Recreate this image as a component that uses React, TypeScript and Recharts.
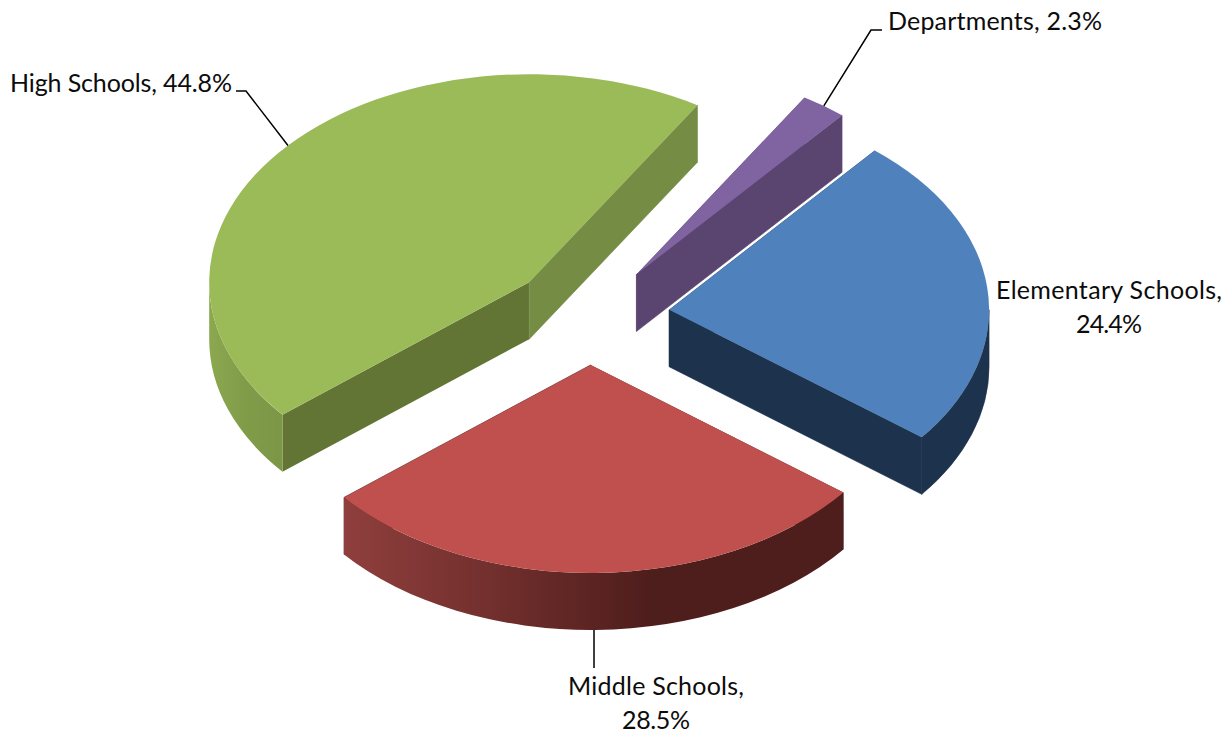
import { Pie, PieChart } from "recharts";

const sliceNames = ["Elementary Schools", "Middle Schools", "High Schools", "Departments"];
const sliceShares = [24.4, 28.5, 44.8, 2.3];

const chartData = sliceNames.map((name, i) => ({ name, share: sliceShares[i] }));

// Tilted-disc projection shared by the slices and their labels
const SQUASH = 0.65;
const DEPTH = 57;
const EXPLODE_X = 0.25;
const EXPLODE_Y = 0.24;
const RAD = Math.PI / 180;

interface SliceStyle {
  top: string;
  startFace: string;
  endFace: string;
  wall: string;
  wallEdge: string;
}

const sliceStyles: SliceStyle[] = [
  { top: "#4f81bd", startFace: "#1d324d", endFace: "#1d324d", wall: "#1d324d", wallEdge: "#1d324d" },
  { top: "#c0504d", startFace: "#4e1e1c", endFace: "#4e1e1c", wall: "url(#middleWall)", wallEdge: "none" },
  { top: "#9bbb59", startFace: "#637535", endFace: "#748c44", wall: "url(#highWall)", wallEdge: "none" },
  { top: "#8064a2", startFace: "#5a4570", endFace: "#5a4570", wall: "#5a4570", wallEdge: "none" }
];

// Text placement for each slice's label, plus the elbow of its leader line
const labelLayouts = [
  {
    lines: [
      { text: "Elementary Schools,", width: 226 },
      { text: "24.4%", width: 66 }
    ],
    x: 1109,
    y: 299,
    anchor: "middle",
    leader: null
  },
  {
    lines: [
      { text: "Middle Schools,", width: 176 },
      { text: "28.5%", width: 68 }
    ],
    x: 656,
    y: 695,
    anchor: "middle",
    leader: [[594, 668]]
  },
  {
    lines: [{ text: "High Schools, 44.8%", width: 222 }],
    x: 10,
    y: 92,
    anchor: "start",
    leader: [[246, 91], [236, 91]]
  },
  {
    lines: [{ text: "Departments, 2.3%", width: 214 }],
    x: 888,
    y: 30,
    anchor: "start",
    leader: [[871, 30], [882, 30]]
  }
];

const LINE_HEIGHT = 34;

function sliceGeometry(cx: number, cy: number, r: number, startAngle: number, endAngle: number) {
  const mid = ((startAngle + endAngle) / 2) * RAD;
  const apexX = cx + EXPLODE_X * r * Math.cos(mid);
  const apexY = cy - EXPLODE_Y * r * SQUASH * Math.sin(mid);
  const rim = (angle: number) => ({
    x: apexX + r * Math.cos(angle * RAD),
    y: apexY - r * SQUASH * Math.sin(angle * RAD)
  });
  return { mid, apexX, apexY, rim };
}

function cutFace(apexX: number, apexY: number, p: { x: number; y: number }) {
  return `M${apexX},${apexY} L${p.x},${p.y} L${p.x},${p.y + DEPTH} L${apexX},${apexY + DEPTH} Z`;
}

function SliceShape(props: any) {
  const { cx, cy, outerRadius: r, startAngle, endAngle, index } = props;
  const style = sliceStyles[index];
  const { apexX, apexY, rim } = sliceGeometry(cx, cy, r, startAngle, endAngle);
  const ry = r * SQUASH;
  const from = rim(startAngle);
  const to = rim(endAngle);
  const large = startAngle - endAngle > 180 ? 1 : 0;

  // Only the near half of the rim shows a wall
  const wallFrom = Math.min(startAngle, 0);
  const wallTo = Math.max(endAngle, -180);
  let wall = null;
  if (wallFrom > wallTo) {
    const a = rim(wallFrom);
    const b = rim(wallTo);
    const d =
      `M${a.x},${a.y} A${r},${ry} 0 0 1 ${b.x},${b.y} L${b.x},${b.y + DEPTH} ` +
      `A${r},${ry} 0 0 0 ${a.x},${a.y + DEPTH} Z`;
    wall = <path d={d} fill={style.wall} stroke={style.wallEdge} strokeWidth={0.6} />;
  }

  return (
    <g>
      <path d={cutFace(apexX, apexY, from)} fill={style.startFace} />
      {/* hairline stroke hides the seam where a face meets a same-coloured wall */}
      <path d={cutFace(apexX, apexY, to)} fill={style.endFace} stroke={style.endFace} strokeWidth={0.6} />
      {wall}
      <path
        d={`M${apexX},${apexY} L${from.x},${from.y} A${r},${ry} 0 ${large} 1 ${to.x},${to.y} Z`}
        fill={style.top}
      />
    </g>
  );
}

function SliceLabel(props: any) {
  const { cx, cy, outerRadius: r, startAngle, endAngle, index } = props;
  const layout = labelLayouts[index];
  const { mid, rim } = sliceGeometry(cx, cy, r, startAngle, endAngle);
  const start = rim(mid / RAD);
  // Leaders from the near side start under the wall, not on the top face
  const nearSide = Math.sin(mid) < -0.5;
  const startY = nearSide ? start.y + DEPTH : start.y;
  const leaderStart = layout.leader && nearSide ? layout.leader[0][0] : start.x;

  return (
    <g>
      {layout.leader && (
        <polyline
          points={[[leaderStart, startY], ...layout.leader].map((p) => p.join(",")).join(" ")}
          fill="none"
          stroke="#000"
          strokeWidth={1.5}
        />
      )}
      {layout.lines.map((line, i) => (
        <text
          key={line.text}
          x={layout.x}
          y={layout.y + i * LINE_HEIGHT}
          textAnchor={layout.anchor as any}
          textLength={line.width}
          lengthAdjust="spacing"
          fontFamily="Lato"
          fontSize={25}
          fill="#0c0c0c"
        >
          {line.text}
        </text>
      ))}
    </g>
  );
}

export default function App() {
  return (
    <div style={{ position: "absolute", left: 0, top: 0, width: 1230, height: 731, background: "#fff" }}>
      <PieChart width={1230} height={731} margin={{ top: 0, right: 0, bottom: 0, left: 0 }}>
        <defs>
          <linearGradient id="middleWall" gradientUnits="userSpaceOnUse" x1={343} y1={0} x2={841} y2={0}>
            <stop offset="0" stopColor="#8f3f3d" />
            <stop offset="0.25" stopColor="#773230" />
            <stop offset="0.5" stopColor="#5b2422" />
            <stop offset="0.62" stopColor="#4e1e1c" />
            <stop offset="1" stopColor="#4e1e1c" />
          </linearGradient>
          <linearGradient id="highWall" gradientUnits="userSpaceOnUse" x1={209} y1={0} x2={282} y2={0}>
            <stop offset="0" stopColor="#8ba84f" />
            <stop offset="0.5" stopColor="#819c49" />
            <stop offset="1" stopColor="#7b9645" />
          </linearGradient>
        </defs>
        <Pie
          data={chartData}
          dataKey="share"
          nameKey="name"
          cx={589.5}
          cy={315}
          outerRadius={320}
          startAngle={50}
          endAngle={-310}
          stroke="none"
          shape={SliceShape}
          label={SliceLabel}
          labelLine={false}
          isAnimationActive={false}
        />
      </PieChart>
    </div>
  );
}
